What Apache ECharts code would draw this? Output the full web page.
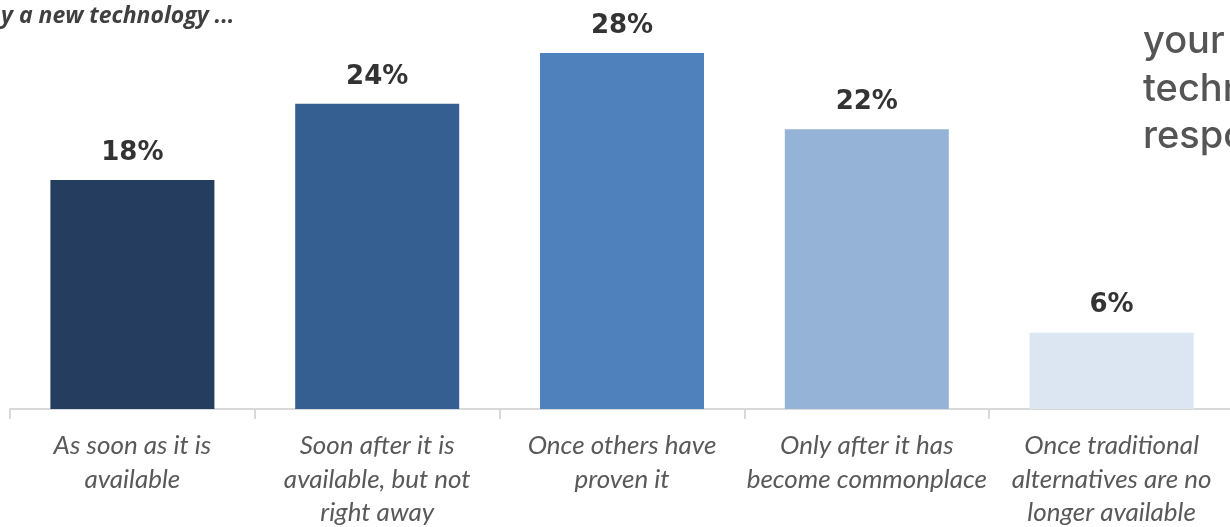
<!DOCTYPE html>
<html>
<head>
<meta charset="utf-8">
<script src="https://cdn.jsdelivr.net/npm/echarts@6/dist/echarts.min.js"></script>
<style>
  html, body { margin: 0; padding: 0; background: #fff; }
  #chart { width: 1230px; height: 527px; }
</style>
</head>
<body>
<div id="chart"></div>
<script>
// categories and shares (percent of respondents)
const categories = [
  'As soon as it is\navailable',
  'Soon after it is\navailable, but not\nright away',
  'Once others have\nproven it',
  'Only after it has\nbecome commonplace',
  'Once traditional\nalternatives are no\nlonger available'
];
const shares = [18, 24, 28, 22, 6];
const barColors = ['#253d5e', '#365f91', '#4f81bd', '#95b3d7', '#dce6f2'];

// side text, cut off by the screenshot edges
const titleText = 'y a new technology ...';
const sideLines = ['your', 'technology', 'responses'];

const chart = echarts.init(document.getElementById('chart'));

const sideGraphics = sideLines.map((line, i) => ({
  type: 'text',
  left: 1143,
  top: 23 + i * 47.5,
  style: {
    text: line,
    fill: '#555555',
    font: '500 38px Inter, sans-serif'
  }
}));

chart.setOption({
  animation: false,
  title: {
    text: titleText,
    left: -4,
    top: 0,
    textStyle: {
      fontFamily: 'Open Sans',
      fontStyle: 'italic',
      fontWeight: 'bold',
      fontSize: 23,
      color: '#404040'
    }
  },
  graphic: sideGraphics,
  grid: { left: 10, top: 2, width: 1224, height: 407, outerBoundsMode: 'none', containLabel: false },
  xAxis: {
    type: 'category',
    data: categories,
    axisLine: { lineStyle: { color: '#d9d9d9', width: 2 } },
    axisTick: { show: true, length: 10, lineStyle: { color: '#d9d9d9', width: 2 } },
    axisLabel: {
      interval: 0,
      margin: 20,
      lineHeight: 33.5,
      fontFamily: 'Lato',
      fontStyle: 'italic',
      fontSize: 26,
      color: '#595959'
    }
  },
  yAxis: {
    type: 'value',
    min: 0,
    max: 32,
    show: false,
    splitLine: { show: false }
  },
  series: [{
    type: 'bar',
    barWidth: '67%',
    data: shares.map((v, i) => ({ value: v, itemStyle: { color: barColors[i] } })),
    label: {
      show: true,
      position: 'top',
      distance: 14,
      formatter: '{c}%',
      fontFamily: 'DejaVu Sans',
      fontWeight: 'bold',
      fontSize: 26,
      color: '#333333'
    }
  }]
});
</script>
</body>
</html>
